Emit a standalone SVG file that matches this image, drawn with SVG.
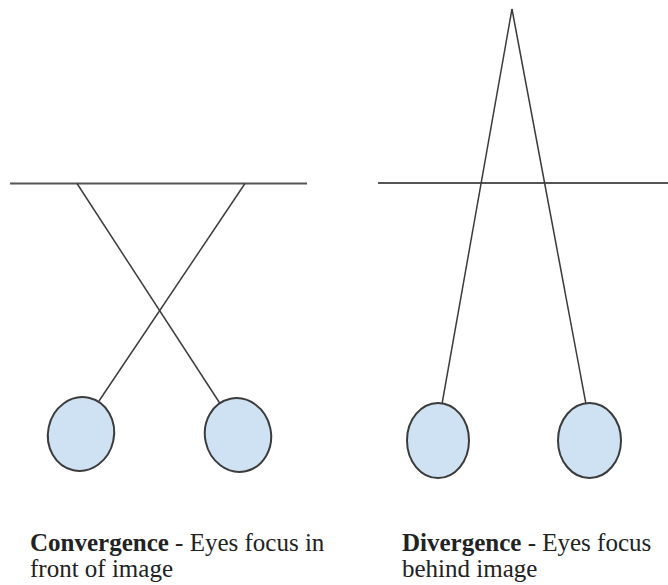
<svg xmlns="http://www.w3.org/2000/svg" width="668" height="585" viewBox="0 0 668 585">
  <style>
    .line { stroke: #3c3c3c; stroke-width: 1.5; fill: none; }
    .plane { stroke: #555; stroke-width: 2; fill: none; }
    .eye { fill: #cfe2f3; stroke: #3c3c3c; stroke-width: 2; }
    .cap { font-family: "Liberation Serif", "Times New Roman", serif; font-size: 25px; fill: #222; }
    .bold { font-weight: bold; }
  </style>
  <rect width="668" height="585" fill="#fff"/>

  <!-- sight lines and image planes -->
  <g id="connectors">
    <line class="plane" x1="10" y1="183.5" x2="307" y2="183.5"/>
    <line class="line" x1="77" y1="183.5" x2="221" y2="405"/>
    <line class="line" x1="245" y1="183.5" x2="99" y2="401"/>

    <line class="plane" x1="378" y1="183" x2="668" y2="183"/>
    <line class="line" x1="512" y1="9" x2="442" y2="404"/>
    <line class="line" x1="512" y1="9" x2="586" y2="404"/>
  </g>

  <!-- convergence eyes -->
  <g id="eye-conv-left">
    <ellipse class="eye" cx="81" cy="434" rx="33" ry="37" transform="rotate(12 81 434)"/>
  </g>
  <g id="eye-conv-right">
    <ellipse class="eye" cx="238" cy="435" rx="33" ry="37" transform="rotate(-12 238 435)"/>
  </g>

  <!-- divergence eyes -->
  <g id="eye-div-left">
    <ellipse class="eye" cx="438" cy="440.5" rx="31" ry="37.5"/>
  </g>
  <g id="eye-div-right">
    <ellipse class="eye" cx="589.5" cy="440.5" rx="31.5" ry="37.5"/>
  </g>

  <!-- captions -->
  <g id="caption-convergence">
    <text class="cap" x="30" y="551"><tspan class="bold">Convergence</tspan> - Eyes focus in</text>
    <text class="cap" x="30" y="577">front of image</text>
  </g>
  <g id="caption-divergence">
    <text class="cap" x="402" y="551"><tspan class="bold">Divergence</tspan> - Eyes focus</text>
    <text class="cap" x="402" y="577">behind image</text>
  </g>
</svg>
